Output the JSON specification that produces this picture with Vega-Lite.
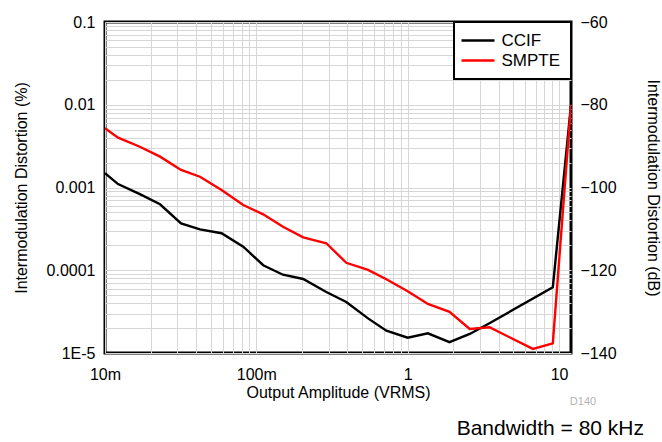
{
  "$schema": "https://vega.github.io/schema/vega-lite/v6.json",
  "width": 466,
  "height": 331,
  "autosize": "none",
  "padding": {"left": 105, "top": 22, "right": 91, "bottom": 89},
  "background": "white",
  "config": {
    "font": "Liberation Sans",
    "view": {"stroke": "black", "strokeWidth": 3},
    "axis": {
      "domain": false,
      "ticks": false,
      "gridColor": "#d6d6d6",
      "gridWidth": 1,
      "gridOpacity": 1,
      "labelColor": "black",
      "labelFontSize": 16,
      "labelFont": "Liberation Sans",
      "titleColor": "black",
      "titleFontSize": 16,
      "titleFont": "Liberation Sans",
      "titleFontWeight": "normal",
      "labelFlush": false,
      "labelOverlap": false
    }
  },
  "layer": [
    {
      "data": {
        "values": [
          {"series": "CCIF", "v": 0.01, "p": 0.00149},
          {"series": "CCIF", "v": 0.0122, "p": 0.0011},
          {"series": "CCIF", "v": 0.017, "p": 0.00083},
          {"series": "CCIF", "v": 0.0231, "p": 0.000627},
          {"series": "CCIF", "v": 0.0318, "p": 0.000369},
          {"series": "CCIF", "v": 0.0424, "p": 0.000312},
          {"series": "CCIF", "v": 0.0589, "p": 0.00028},
          {"series": "CCIF", "v": 0.0819, "p": 0.000193},
          {"series": "CCIF", "v": 0.111, "p": 0.000115},
          {"series": "CCIF", "v": 0.15, "p": 0.0000883},
          {"series": "CCIF", "v": 0.204, "p": 0.0000784},
          {"series": "CCIF", "v": 0.29, "p": 0.0000546},
          {"series": "CCIF", "v": 0.393, "p": 0.0000413},
          {"series": "CCIF", "v": 0.547, "p": 0.0000262},
          {"series": "CCIF", "v": 0.723, "p": 0.0000186},
          {"series": "CCIF", "v": 1.0, "p": 0.0000153},
          {"series": "CCIF", "v": 1.36, "p": 0.0000173},
          {"series": "CCIF", "v": 1.89, "p": 0.0000135},
          {"series": "CCIF", "v": 2.57, "p": 0.000017},
          {"series": "CCIF", "v": 3.47, "p": 0.0000229},
          {"series": "CCIF", "v": 9.1, "p": 0.0000622},
          {"series": "CCIF", "v": 12, "p": 0.01},
          {"series": "SMPTE", "v": 0.01, "p": 0.00519},
          {"series": "SMPTE", "v": 0.0122, "p": 0.004},
          {"series": "SMPTE", "v": 0.017, "p": 0.00311},
          {"series": "SMPTE", "v": 0.0231, "p": 0.00236},
          {"series": "SMPTE", "v": 0.0318, "p": 0.00163},
          {"series": "SMPTE", "v": 0.0424, "p": 0.00135},
          {"series": "SMPTE", "v": 0.0589, "p": 0.000933},
          {"series": "SMPTE", "v": 0.0819, "p": 0.000615},
          {"series": "SMPTE", "v": 0.111, "p": 0.000474},
          {"series": "SMPTE", "v": 0.15, "p": 0.000336},
          {"series": "SMPTE", "v": 0.204, "p": 0.00025},
          {"series": "SMPTE", "v": 0.29, "p": 0.000212},
          {"series": "SMPTE", "v": 0.393, "p": 0.000123},
          {"series": "SMPTE", "v": 0.547, "p": 0.000101},
          {"series": "SMPTE", "v": 0.723, "p": 0.0000778},
          {"series": "SMPTE", "v": 1.0, "p": 0.0000557},
          {"series": "SMPTE", "v": 1.36, "p": 0.0000391},
          {"series": "SMPTE", "v": 1.89, "p": 0.0000315},
          {"series": "SMPTE", "v": 2.57, "p": 0.0000195},
          {"series": "SMPTE", "v": 3.47, "p": 0.0000205},
          {"series": "SMPTE", "v": 6.72, "p": 0.0000112},
          {"series": "SMPTE", "v": 9.1, "p": 0.0000131},
          {"series": "SMPTE", "v": 12, "p": 0.01}
        ]
      },
      "layer": [
        {
          "mark": {"type": "line", "strokeWidth": 2.4, "clip": true},
          "encoding": {
            "x": {
              "field": "v",
              "type": "quantitative",
              "scale": {"type": "log", "domain": [0.01, 12], "nice": false},
              "axis": {
                "title": "Output Amplitude (VRMS)",
                "values": [0.01, 0.02, 0.03, 0.04, 0.05, 0.06, 0.07, 0.08, 0.09, 0.1, 0.2, 0.3, 0.4, 0.5, 0.6, 0.7, 0.8, 0.9, 1, 2, 3, 4, 5, 6, 7, 8, 9, 10],
                "labelExpr": "datum.value == 0.01 ? '10m' : datum.value == 0.1 ? '100m' : datum.value == 1 ? '1' : datum.value == 10 ? '10' : ''",
                "grid": true,
                "labelPadding": 13,
                "titlePadding": 2
              }
            },
            "y": {
              "field": "p",
              "type": "quantitative",
              "scale": {"type": "log", "domain": [0.00001, 0.1], "nice": false},
              "axis": {
                "title": "Intermodulation Distortion (%)",
                "values": [0.00001, 0.00002, 0.00003, 0.00004, 0.00005, 0.00006, 0.00007, 0.00008, 0.00009, 0.0001, 0.0002, 0.0003, 0.0004, 0.0005, 0.0006, 0.0007, 0.0008, 0.0009, 0.001, 0.002, 0.003, 0.004, 0.005, 0.006, 0.007, 0.008, 0.009, 0.01, 0.02, 0.03, 0.04, 0.05, 0.06, 0.07, 0.08, 0.09, 0.1],
                "labelExpr": "datum.value == 0.1 ? '0.1' : datum.value == 0.01 ? '0.01' : datum.value == 0.001 ? '0.001' : datum.value == 0.0001 ? '0.0001' : datum.value == 0.00001 ? '1E-5' : ''",
                "grid": true,
                "labelPadding": 10,
                "titlePadding": 17
              }
            },
            "color": {
              "field": "series",
              "type": "nominal",
              "scale": {"domain": ["CCIF", "SMPTE"], "range": ["#000000", "#ff0000"]},
              "legend": {
                "title": null,
                "orient": "top-right",
                "offset": 0,
                "symbolType": "M-2.2,0H4.4",
                "symbolStrokeWidth": 2.5,
                "symbolSize": 100,
                "labelFontSize": 17,
                "labelColor": "black",
                "labelOffset": 20.5,
                "strokeColor": "black",
                "fillColor": "white",
                "padding": 10,
                "rowPadding": 2,
                "encode": {"legend": {"update": {"strokeWidth": {"value": 2}}}}
              }
            }
          }
        },
        {
          "data": {"values": [{"v": 12, "p": 0.00001, "label": "D140"}]},
          "mark": {"type": "text", "fontSize": 11, "color": "#b4b4b4", "dx": 12, "dy": 49, "align": "center"},
          "encoding": {
            "x": {"field": "v", "type": "quantitative"},
            "y": {"field": "p", "type": "quantitative"},
            "text": {"field": "label"}
          }
        },
        {
          "data": {"values": [{"v": 12, "p": 0.00001, "label": "Bandwidth = 80 kHz"}]},
          "mark": {"type": "text", "fontSize": 21, "color": "black", "dx": 73, "dy": 76, "align": "right"},
          "encoding": {
            "x": {"field": "v", "type": "quantitative"},
            "y": {"field": "p", "type": "quantitative"},
            "text": {"field": "label"}
          }
        }
      ]
    },
    {
      "data": {"values": [{"dB": -60}, {"dB": -140}]},
      "mark": {"type": "rule", "opacity": 0},
      "encoding": {
        "y": {
          "field": "dB",
          "type": "quantitative",
          "scale": {"domain": [-140, -60], "nice": false},
          "axis": {
            "orient": "right",
            "title": "Intermodulation Distortion (dB)",
            "values": [-140, -120, -100, -80, -60],
            "grid": false,
            "labelPadding": 9,
            "titlePadding": 28
          }
        }
      }
    }
  ],
  "resolve": {"scale": {"y": "independent"}}
}
